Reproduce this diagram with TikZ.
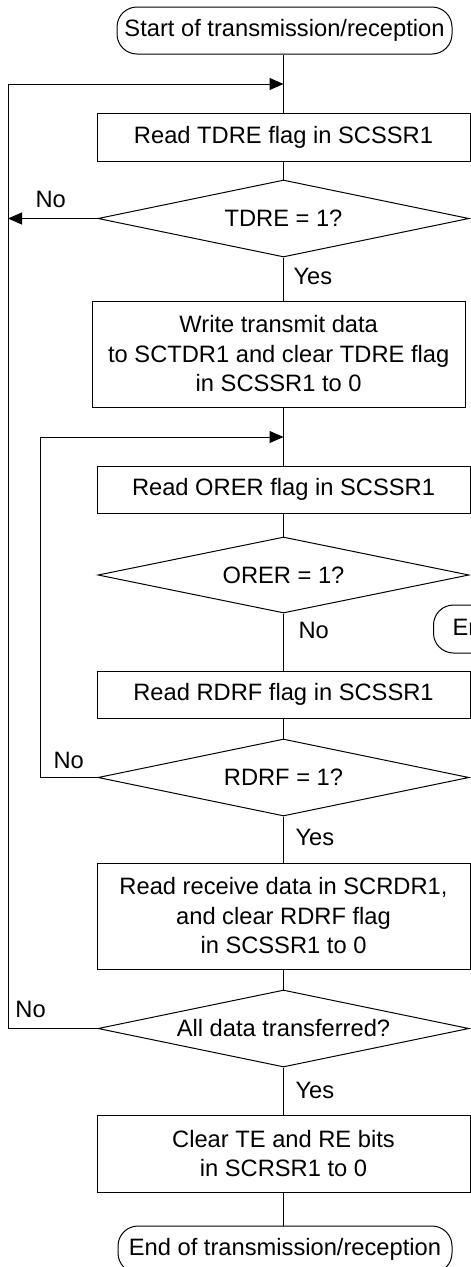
\documentclass[tikz,border=0pt]{standalone}
\usepackage{fontspec}
\setmainfont{Liberation Sans}
\usetikzlibrary{shapes.geometric,arrows.meta}
\begin{document}
\begin{tikzpicture}[x=1pt,y=-1pt, line width=1pt,
 every node/.style={font=\fontsize{23.7}{29.5}\selectfont},
 procbox/.style={draw, rectangle, minimum width=373pt, inner sep=0pt, align=center},
 decis/.style={draw, diamond, aspect=4.8, minimum width=371pt, minimum height=77pt, inner sep=0pt},
 term/.style={draw, rectangle, rounded corners=20pt, minimum height=47pt, inner ysep=0pt},
 arr/.style={-{Triangle[length=14pt,width=12pt]}},
 lbl/.style={inner sep=0pt, anchor=west}
]
\clip (0,0) rectangle (471,1267);
\node[term, minimum width=335pt] (start) at (284.5,30.5) {Start of transmission/reception};
\node[procbox, minimum height=48pt] (b1) at (283.5,137) {Read TDRE flag in SCSSR1};
\node[decis] (d1) at (283.5,218.5) {TDRE = 1?};
\node[procbox, minimum height=106pt] (b2) at (278.7,354) {Write transmit data\\to SCTDR1 and clear TDRE flag\\in SCSSR1 to 0};
\node[procbox, minimum height=47pt] (b3) at (283.5,489.5) {Read ORER flag in SCSSR1};
\node[decis, minimum height=76pt] (d2) at (283.5,575) {ORER = 1?};
\node[term, anchor=west, inner xsep=19pt, minimum height=48pt] (err) at (433,629) {Error processing};
\node[procbox, minimum height=47pt] (b4) at (283.5,694.5) {Read RDRF flag in SCSSR1};
\node[decis] (d3) at (283.5,777.5) {RDRF = 1?};
\node[procbox, minimum height=106pt] (b5) at (283.5,916) {Read receive data in SCRDR1,\\and clear RDRF flag\\in SCSSR1 to 0};
\node[decis] (d4) at (283.5,1028.5) {All data transferred?};
\node[procbox, minimum height=77pt] (b6) at (283.5,1153.5) {Clear TE and RE bits\\in SCRSR1 to 0};
\node[term, minimum width=334pt] (end) at (285,1249.5) {End of transmission/reception};
\coordinate (lx) at (8,0);
\coordinate (lx2) at (40,0);
\coordinate (j1) at (283.5,84);
\coordinate (j2) at (283.5,437);
\node[lbl] (no1) at (35,199.5) {No};
\node[lbl] (yes1) at (293,276.5) {Yes};
\node[lbl] (no2) at (298,630) {No};
\node[lbl] (no3) at (53,760) {No};
\node[lbl] (yes3) at (295,837.5) {Yes};
\node[lbl] (no4) at (15,1009.5) {No};
\node[lbl] (yes4) at (295,1090.5) {Yes};
\draw (b1.north |- start.south) -- (b1.north);
\draw (b1) -- (d1);
\draw[arr] (d1.west) -- (d1.west -| lx);
\draw (d1.south) -- (d1.south |- b2.north);
\draw (b2.south -| b3.north) -- (b3.north);
\draw (b3) -- (d2);
\draw (d2) -- (b4);
\draw (b4) -- (d3);
\draw[arr] (d3.west) -- (d3.west -| lx2) -- (lx2 |- j2) -- (j2);
\draw (d3) -- (b5);
\draw (b5) -- (d4);
\draw (d4) -- (b6);
\draw[arr] (d4.west) -- (d4.west -| lx) -- (lx |- j1) -- (j1);
\draw (b6.south) -- (b6.south |- end.north);
\end{tikzpicture}
\end{document}
